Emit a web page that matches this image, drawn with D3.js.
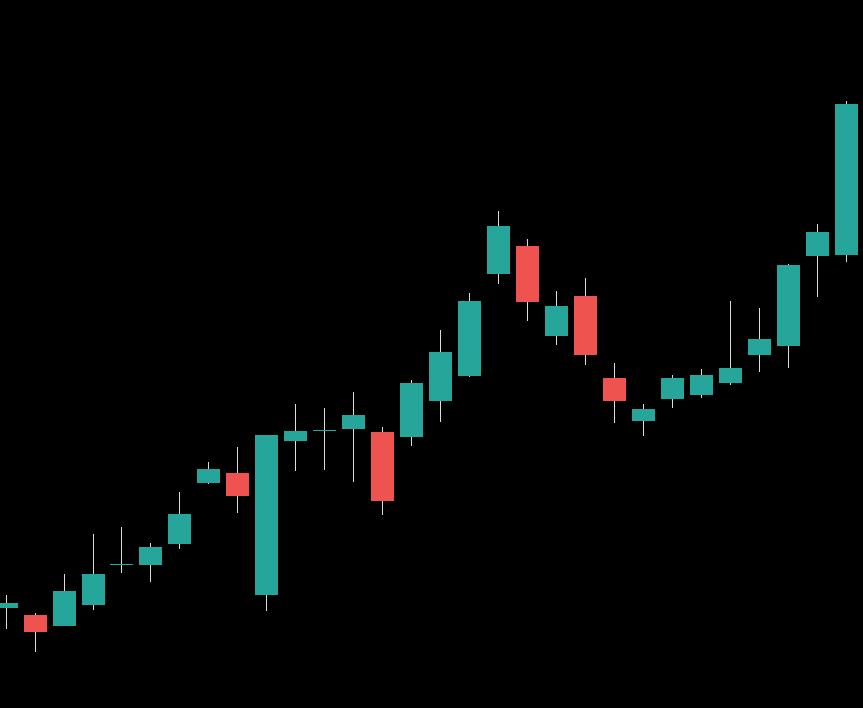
<!DOCTYPE html>
<meta charset="utf-8">
<style>
html, body { margin: 0; padding: 0; background: #000; }
svg { display: block; }
.wicks line { stroke: #dcdcdc; stroke-width: 1px; shape-rendering: crispEdges; }
.bodies rect { shape-rendering: crispEdges; }
</style>

<svg width="863" height="708"></svg>

<script src="https://d3js.org/d3.v7.min.js"></script>
<script>

// one entry per bar, oldest first
var opens  = [19.2, 18.5, 17.4, 19.5, 23.6, 23.5, 25.6, 31.7, 32.7, 20.5,
              35.9, 37.0, 37.1, 36.8, 36.3, 39.9, 42.4, 52.6, 55.4, 46.4,
              50.4, 42.2, 37.9, 40.1, 40.5, 41.7, 44.5, 45.4, 54.4, 54.5];
var highs  = [20.5, 18.7, 22.6, 26.6, 27.3, 25.7, 30.8, 33.8, 35.3, 36.5,
              39.6, 39.2, 40.8, 37.3, 42.0, 47.0, 50.7, 58.9, 56.1, 50.9,
              52.2, 43.7, 39.6, 42.5, 43.1, 49.9, 49.2, 53.6, 57.6, 69.9];
var lows   = [17.1, 14.8, 17.4, 19.0, 22.7, 21.8, 25.1, 31.6, 28.7, 18.9,
              32.9, 33.0, 31.8, 28.5, 35.4, 37.8, 42.3, 51.6, 47.9, 45.5,
              43.5, 37.7, 36.4, 39.2, 40.2, 41.5, 42.8, 43.2, 50.3, 53.8];
var closes = [19.7, 16.8, 20.9, 22.6, 23.6, 25.3, 28.6, 33.1, 30.4, 36.5,
              36.9, 37.0, 38.5, 29.9, 41.7, 44.8, 49.9, 57.4, 49.8, 49.4,
              44.5, 39.9, 39.1, 42.2, 42.5, 43.2, 46.1, 53.5, 56.8, 69.6];

var upColor = "#26a69a",
    downColor = "#ef5350";

var svg = d3.select("svg"),
    width = +svg.attr("width"),
    height = +svg.attr("height");

var bars = opens.map(function(o, i) {
  return {i: i, open: o, high: highs[i], low: lows[i], close: closes[i]};
});

var x = d3.scalePoint()
    .domain(bars.map(function(d) { return d.i; }))
    .range([5.62, 845.62]);

var y = d3.scaleLinear()
    .domain([0, 80])
    .range([800, 0]);

var bodyWidth = 23;

// snap the bar centre to the middle of a pixel so the wick stays 1px wide
function cx(d) { return Math.round(x(d.i)) + 0.5; }

svg.append("g")
    .attr("class", "wicks")
  .selectAll("line")
  .data(bars)
  .enter().append("line")
    .attr("x1", cx)
    .attr("x2", cx)
    .attr("y1", function(d) { return Math.round(y(d.high)); })
    .attr("y2", function(d) { return Math.round(y(d.low)); });

svg.append("g")
    .attr("class", "bodies")
  .selectAll("rect")
  .data(bars)
  .enter().append("rect")
    .attr("x", function(d) { return cx(d) - bodyWidth / 2; })
    .attr("width", bodyWidth)
    .attr("y", function(d) { return Math.round(y(Math.max(d.open, d.close))); })
    .attr("height", function(d) {
      var h = Math.round(y(Math.min(d.open, d.close))) - Math.round(y(Math.max(d.open, d.close)));
      return Math.max(1, h);
    })
    .attr("fill", function(d) { return d.close >= d.open ? upColor : downColor; });

</script>
